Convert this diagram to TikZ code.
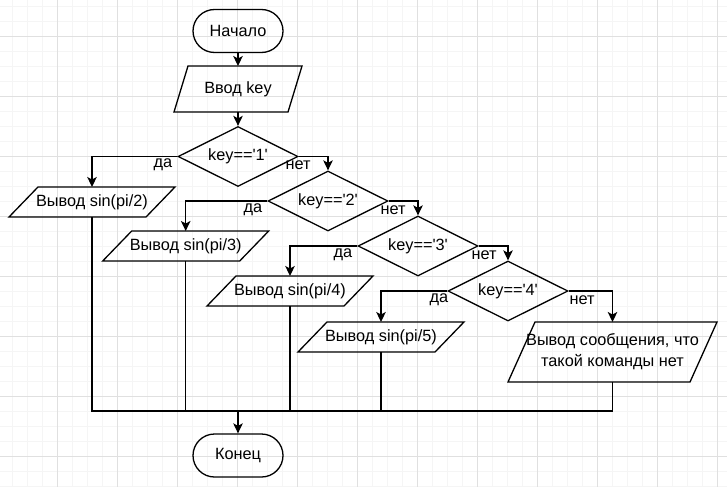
\documentclass[tikz,border=0pt]{standalone}
\usepackage{fontspec}
\setmainfont{Liberation Sans}
\usetikzlibrary{shapes.geometric,shapes.misc,arrows.meta}
\newcommand\iobox[2]{\draw[shapeline] ([xshift=#2pt]#1.north west) -- (#1.north east) -- ([xshift=-#2pt]#1.south east) -- (#1.south west) -- cycle;}
\newcommand\qq{\textquotesingle}
\begin{document}
\begin{tikzpicture}[x=1pt,y=-1pt,
  txt/.style={font=\fontsize{16.3}{21}\selectfont},
  shapeline/.style={line width=1.3pt, black, line join=miter},
  term/.style={rounded rectangle, draw, line width=1.3pt, minimum width=90pt, minimum height=43pt, inner sep=0pt, txt},
  dec/.style={diamond, aspect=2, draw, line width=1.3pt, minimum width=120pt, minimum height=60pt, inner sep=0pt, txt},
  io/.style={rectangle, draw=none, outer sep=0pt, inner sep=0pt, txt, align=center},
  conn/.style={line width=1.3pt, black},
  arr/.style={conn, -{Stealth[length=10pt,width=9.5pt,inset=2.5pt]}},
  lbl/.style={txt, inner sep=0pt},
  minorgrid/.style={line width=0.8pt, black!4},
  majorgrid/.style={line width=0.8pt, black!12}]
\useasboundingbox (0,0) rectangle (727,487);
\fill[white] (0,0) rectangle (727,487);
% grid
\foreach \i in {0,...,47} {\draw[minorgrid] ({12.7+15*\i},0) -- ++(0,487);}
\foreach \i in {0,...,32} {\draw[minorgrid] (0,{6+15*\i}) -- ++(727,0);}
\foreach \i in {0,...,11} {\draw[majorgrid] ({57.7+60*\i},0) -- ++(0,487);}
\foreach \i in {0,...,7} {\draw[majorgrid] (0,{36+60*\i}) -- ++(727,0);}
% nodes
\node[term] (start) at (238,31) {Начало};
\node[io, minimum width=128pt, minimum height=46pt] (in) at (238,89) {Ввод key};
\iobox{in}{14}
\node[dec] (d1) at (238,156.5) {key==\qq1\qq};
\node[dec] (d2) at (328,201) {key==\qq2\qq};
\node[dec] (d3) at (418,246) {key==\qq3\qq};
\node[dec] (d4) at (508,291) {key==\qq4\qq};
\node[io, minimum width=166pt, minimum height=30pt] (o1) at (92,202) {Вывод sin(pi/2)};
\iobox{o1}{29}
\node[io, minimum width=166pt, minimum height=30pt] (o2) at (185.7,246) {Вывод sin(pi/3)};
\iobox{o2}{29}
\node[io, minimum width=166pt, minimum height=30pt] (o3) at (290,291) {Вывод sin(pi/4)};
\iobox{o3}{29}
\node[io, minimum width=166pt, minimum height=30pt] (o4) at (381,337) {Вывод sin(pi/5)};
\iobox{o4}{29}
\node[io, minimum width=209pt, minimum height=60pt] (msg) at (612.5,352) {Вывод сообщения, что\\такой команды нет};
\iobox{msg}{27}
\node[term] (end) at (238,455.5) {Конец};
\coordinate (mj) at (238,411);
% connectors
\draw[arr] (start) -- (in);
\draw[arr] (in) -- (d1);
\draw[arr] (d1.west) -| (o1.north);
\draw[arr] (d1.east) -| (d2.north);
\draw[arr] (d2.west) -| (o2.north);
\draw[arr] (d2.east) -| (d3.north);
\draw[arr] (d3.west) -| (o3.north);
\draw[arr] (d3.east) -| (d4.north);
\draw[arr] (d4.west) -| (o4.north);
\draw[arr] (d4.east) -| (msg.north);
\draw[conn] (o1.south) -- (o1.south |- mj) -- (msg.south |- mj) -- (msg.south);
\draw[conn] (o2.south) -- (o2.south |- mj);
\draw[conn] (o3.south) -- (o3.south |- mj);
\draw[conn] (o4.south) -- (o4.south |- mj);
\draw[arr] (mj) -- (end.north);
% labels
\node[lbl] (y1) at (163,165) {да};
\node[lbl] (n1) at (298,165) {нет};
\node[lbl] (y2) at (253,210) {да};
\node[lbl] (n2) at (393,210) {нет};
\node[lbl] (y3) at (343,255) {да};
\node[lbl] (n3) at (484,255) {нет};
\node[lbl] (y4) at (439,300) {да};
\node[lbl] (n4) at (582,300) {нет};
\end{tikzpicture}
\end{document}
